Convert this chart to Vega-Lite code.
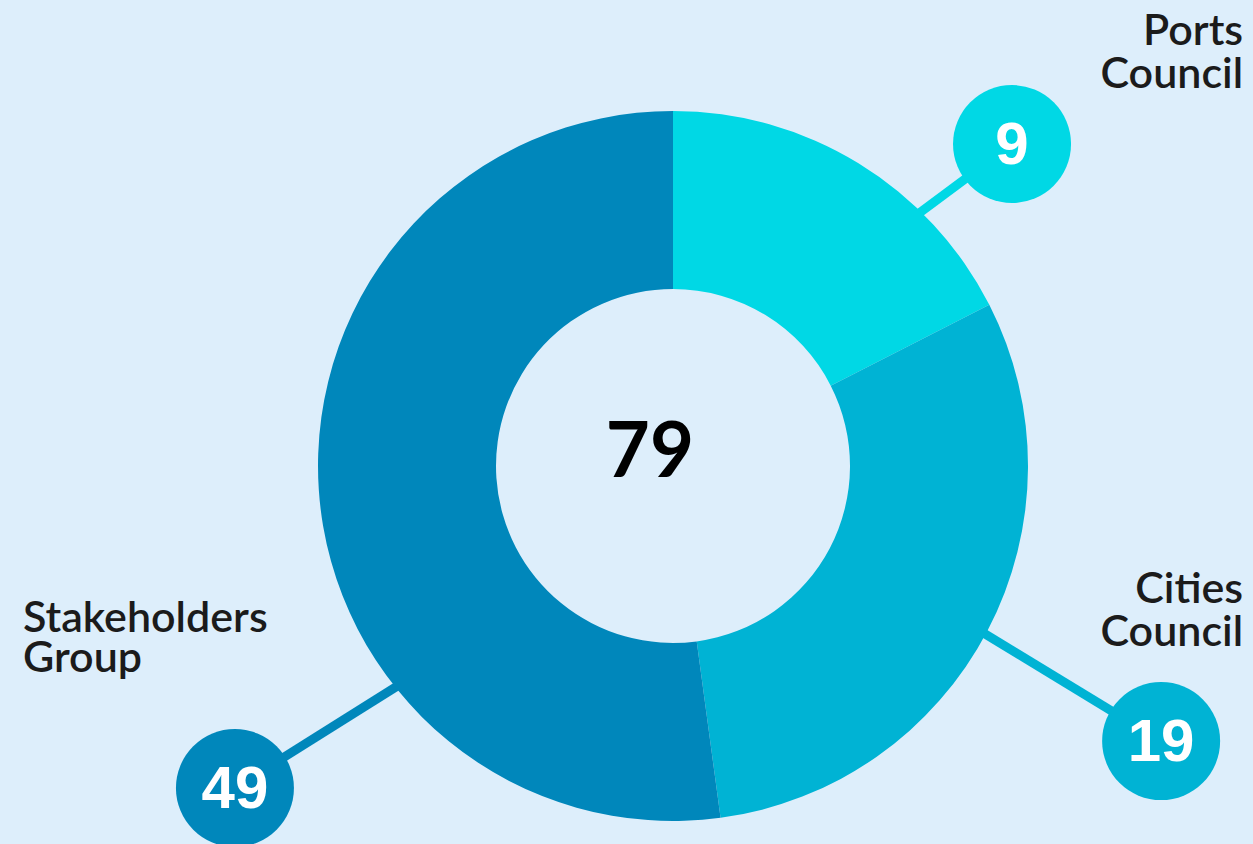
{
  "$schema": "https://vega.github.io/schema/vega-lite/v6.json",
  "width": 1253,
  "height": 844,
  "autosize": "none",
  "padding": 0,
  "background": "#ddeefb",
  "config": {"view": {"stroke": null}},
  "data": {
    "values": [
      {"group": "Ports Council", "label": "Ports\nCouncil", "count": 9, "share": 63, "bx": 0.955, "by": 0.907, "sx": 0.611, "sy": 0.651, "tx": 1.606, "ty": 1.186},
      {"group": "Cities Council", "label": "Cities\nCouncil", "count": 19, "share": 109.3, "bx": 1.375, "by": -0.775, "sx": 0.8, "sy": -0.425, "tx": 1.606, "ty": -0.386},
      {"group": "Stakeholders Group", "label": "Stakeholders\nGroup", "count": 49, "share": 187.7, "bx": -1.234, "by": -0.907, "sx": -0.713, "sy": -0.58, "tx": -1.831, "ty": -0.468}
    ]
  },
  "layer": [
    {
      "mark": {"type": "rule", "strokeWidth": 9},
      "encoding": {
        "x": {"field": "sx", "type": "quantitative", "scale": {"domain": [-1.8958, 1.6338], "nice": false, "zero": false}, "axis": null},
        "y": {"field": "sy", "type": "quantitative", "scale": {"domain": [-1.0648, 1.3127], "nice": false, "zero": false}, "axis": null},
        "x2": {"field": "bx"},
        "y2": {"field": "by"},
        "color": {"field": "group", "type": "nominal", "scale": {"domain": ["Ports Council", "Cities Council", "Stakeholders Group"], "range": ["#00d8e5", "#00b3d4", "#0087bb"]}, "legend": null}
      }
    },
    {
      "mark": {"type": "arc", "innerRadius": 177, "outerRadius": 355},
      "encoding": {
        "x": {"datum": 0, "type": "quantitative"},
        "y": {"datum": 0, "type": "quantitative"},
        "theta": {"field": "share", "type": "quantitative", "stack": true},
        "order": {"field": "share", "sort": "ascending"},
        "color": {"field": "group", "type": "nominal", "legend": null}
      }
    },
    {
      "mark": {"type": "point", "filled": true, "opacity": 1, "size": 13924, "shape": "circle"},
      "encoding": {
        "x": {"field": "bx", "type": "quantitative"},
        "y": {"field": "by", "type": "quantitative"},
        "color": {"field": "group", "type": "nominal", "legend": null}
      }
    },
    {
      "mark": {"type": "text", "font": "Liberation Sans", "fontWeight": "bold", "fontSize": 60, "color": "#ffffff", "align": "center", "baseline": "middle", "dy": 2},
      "encoding": {
        "x": {"field": "bx", "type": "quantitative"},
        "y": {"field": "by", "type": "quantitative"},
        "text": {"field": "count", "type": "quantitative"}
      }
    },
    {
      "transform": [{"filter": "datum.group !== 'Stakeholders Group'"}],
      "mark": {"type": "text", "font": "Lato", "fontWeight": 600, "fontSize": 43, "color": "#1b1b1b", "align": "right", "baseline": "alphabetic", "lineBreak": "\n", "lineHeight": 43},
      "encoding": {
        "x": {"field": "tx", "type": "quantitative"},
        "y": {"field": "ty", "type": "quantitative"},
        "text": {"field": "label", "type": "nominal"}
      }
    },
    {
      "transform": [{"filter": "datum.group === 'Stakeholders Group'"}],
      "mark": {"type": "text", "font": "Lato", "fontWeight": 600, "fontSize": 43, "color": "#1b1b1b", "align": "left", "baseline": "alphabetic", "lineBreak": "\n", "lineHeight": 40},
      "encoding": {
        "x": {"field": "tx", "type": "quantitative"},
        "y": {"field": "ty", "type": "quantitative"},
        "text": {"field": "label", "type": "nominal"}
      }
    },
    {
      "data": {"values": [{"total": 79, "cx": -0.065, "cy": -0.031}]},
      "mark": {"type": "text", "font": "Lato", "fontWeight": "bold", "fontSize": 76, "color": "#000000", "align": "center", "baseline": "alphabetic"},
      "encoding": {
        "x": {"field": "cx", "type": "quantitative"},
        "y": {"field": "cy", "type": "quantitative"},
        "text": {"field": "total", "type": "quantitative"}
      }
    }
  ]
}
